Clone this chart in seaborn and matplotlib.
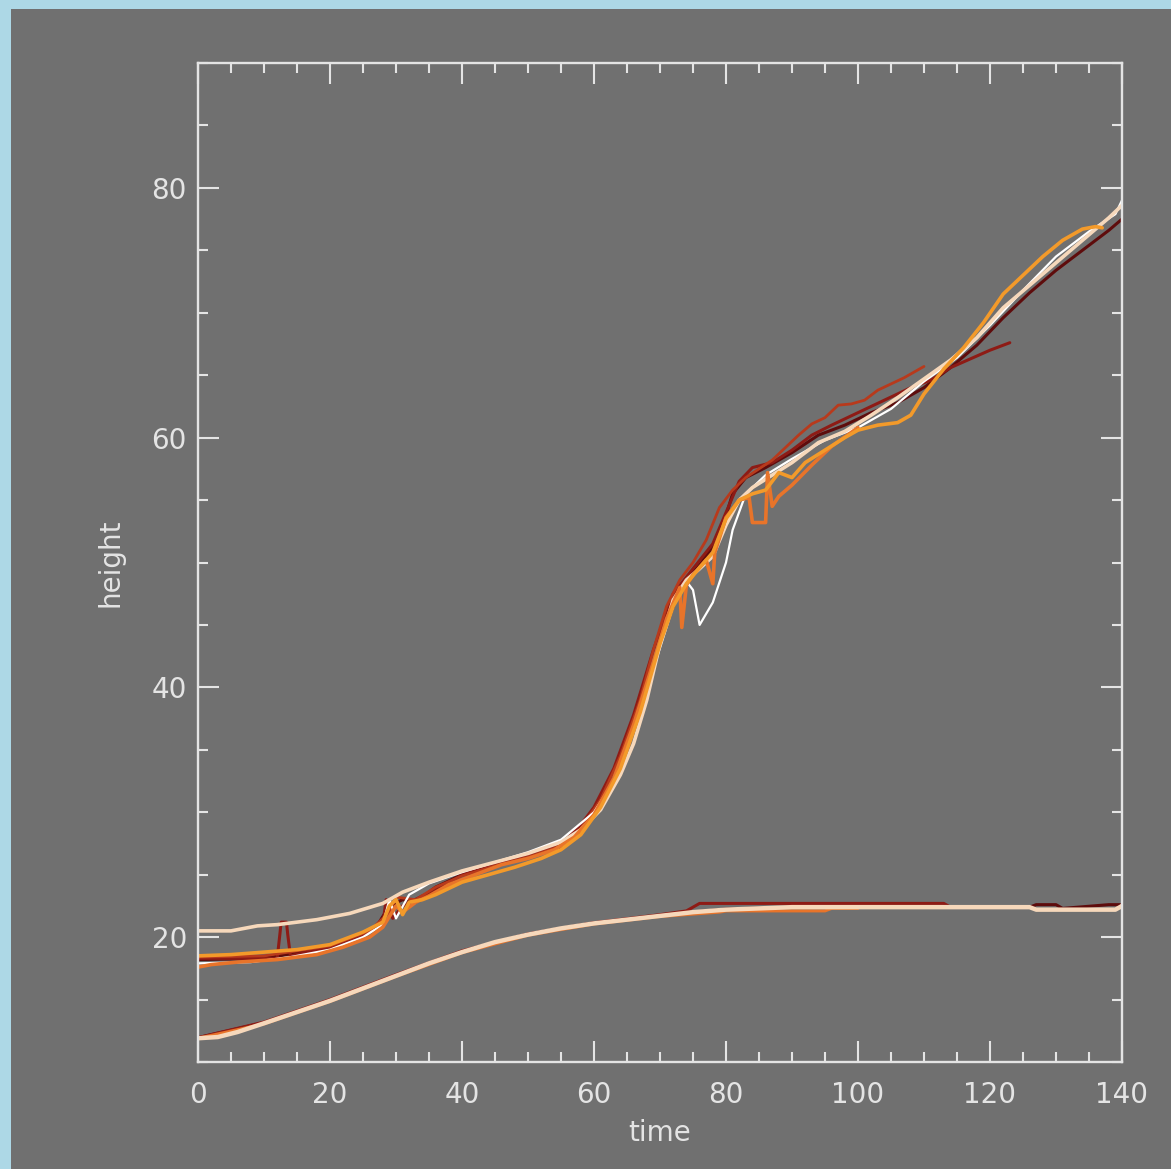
import matplotlib
matplotlib.use("Agg")
import matplotlib.pyplot as plt
import seaborn as sns
import pandas as pd
from matplotlib.patches import Rectangle
from matplotlib.ticker import MultipleLocator

# ---------------- data ----------------
# upper family of tracks
maroon_t = [0, 10, 20, 27, 29, 31, 33, 36, 40, 45, 50, 55, 58, 61, 64, 67, 70, 73, 76, 79, 81, 83, 86, 90, 94, 98, 102, 106, 110, 114, 118, 122, 126, 130, 134, 138, 140]
maroon_h = [18.2, 18.3, 19.2, 20.8, 22.5, 23.0, 22.8, 24.0, 25.0, 25.8, 26.5, 27.2, 28.4, 30.5, 33.8, 38.0, 43.5, 48.0, 49.8, 52.0, 55.5, 56.8, 57.6, 58.8, 60.2, 61.0, 62.0, 62.8, 64.0, 65.6, 67.4, 69.6, 71.6, 73.4, 75.0, 76.6, 77.5]

darkred_t = [0, 12, 12.4, 12.6, 13.4, 13.6, 14, 20, 25, 28, 28.5, 29.5, 31, 34, 37, 40, 45, 50, 55, 58, 60, 63, 66, 69, 72, 75, 78, 80, 82, 84, 87, 90, 93, 96, 100, 104, 108, 111, 114, 117, 120, 123]
darkred_h = [18.3, 18.3, 20.2, 21.2, 21.2, 20.2, 18.5, 19.2, 20.2, 21.0, 23.0, 21.5, 22.5, 23.3, 24.0, 25.0, 25.9, 26.6, 27.4, 29.0, 30.4, 33.5, 37.8, 43.0, 47.5, 49.5, 51.5, 54.0, 56.5, 57.6, 58.0, 59.0, 60.2, 61.0, 62.0, 63.0, 64.0, 64.6, 65.6, 66.3, 67.0, 67.6]

red_t = [0, 10, 20, 26, 29, 30, 33, 36, 40, 45, 50, 55, 58, 61, 64, 67, 69, 71, 73, 75, 77, 79, 81, 83, 85, 87, 89, 91, 93, 95, 97, 99, 101, 103, 105, 107, 110]
red_h = [18.4, 18.5, 19.3, 20.5, 22.0, 23.2, 23.0, 24.0, 24.9, 25.7, 26.4, 27.3, 28.7, 31.0, 34.5, 39.0, 43.0, 46.5, 48.6, 50.0, 51.8, 54.4, 55.8, 56.8, 57.5, 58.2, 59.2, 60.2, 61.1, 61.6, 62.6, 62.7, 63.0, 63.8, 64.3, 64.8, 65.7]

white_t = [0, 8, 14, 20, 25, 28, 29, 30, 32, 35, 40, 45, 50, 55, 60, 63, 66, 69, 72, 74, 75, 76, 78, 80, 81, 83, 86, 90, 95, 100, 105, 110, 115, 120, 125, 130, 135, 139, 140]
white_h = [17.9, 18.0, 18.4, 19.0, 20.0, 21.0, 23.0, 21.5, 23.4, 24.3, 25.2, 26.0, 26.8, 27.8, 30.0, 32.5, 36.5, 41.5, 46.5, 48.5, 47.8, 45.0, 46.8, 50.0, 52.6, 55.5, 57.0, 58.3, 59.8, 60.8, 62.3, 64.5, 66.4, 69.0, 71.8, 74.5, 76.5, 77.9, 79.0]

peach_t = [0, 5, 9, 12, 18, 23, 28, 31, 35, 40, 45, 50, 55, 58, 61, 64, 66, 68, 70, 72, 74, 76, 78, 80, 82, 84, 87, 90, 94, 98, 102, 106, 110, 114, 118, 122, 126, 130, 134, 138, 140]
peach_h = [20.5, 20.5, 20.9, 21.0, 21.4, 21.9, 22.7, 23.6, 24.4, 25.3, 26.0, 26.7, 27.6, 28.6, 30.2, 33.0, 35.5, 39.0, 43.5, 47.0, 48.6, 49.5, 50.5, 53.0, 55.0, 56.0, 57.0, 58.0, 59.6, 60.5, 61.8, 63.2, 64.7, 66.2, 68.0, 70.4, 72.2, 74.0, 75.8, 77.6, 78.6]

dkorange_t = [0, 2, 6, 12, 18, 22, 26, 28, 30, 31, 33, 35, 38, 42, 46, 50, 54, 57, 60, 63, 66, 69, 71, 73, 73.3, 74, 75, 77, 78, 78.3, 80, 82, 83.5, 84, 86, 86.3, 87, 88, 90, 93, 96, 100]
dkorange_h = [17.6, 17.8, 18.0, 18.2, 18.6, 19.2, 20.0, 20.8, 22.5, 22.0, 22.8, 23.3, 24.2, 25.0, 25.8, 26.3, 27.0, 28.0, 29.8, 32.7, 37.0, 42.0, 45.5, 48.0, 44.8, 48.2, 49.0, 50.2, 48.3, 50.8, 53.6, 55.0, 55.2, 53.2, 53.2, 57.2, 54.5, 55.3, 56.2, 57.8, 59.3, 60.8]

orange_t = [0, 5, 10, 15, 20, 25, 28, 29, 30, 31, 32, 34, 36, 38, 40, 44, 48, 52, 55, 58, 61, 64, 67, 70, 72, 74, 76, 78, 80, 82, 84, 86, 88, 90, 92, 95, 98, 100, 103, 106, 108, 110, 113, 116, 119, 122, 125, 128, 131, 134, 136, 137]
orange_h = [18.5, 18.6, 18.8, 19.0, 19.4, 20.4, 21.2, 22.5, 23.0, 21.8, 22.8, 23.0, 23.4, 23.9, 24.4, 25.0, 25.6, 26.3, 27.0, 28.2, 30.4, 33.5, 38.0, 43.5, 46.5, 48.3, 49.6, 50.8, 53.5, 55.0, 55.5, 55.8, 57.2, 56.8, 58.0, 59.0, 60.0, 60.6, 61.0, 61.2, 61.8, 63.5, 65.5, 67.2, 69.2, 71.5, 73.0, 74.5, 75.8, 76.7, 76.9, 76.8]

# lower family of tracks
low_maroon_t = [0, 10, 20, 30, 40, 50, 60, 70, 80, 90, 100, 110, 120, 126, 127, 130, 131, 138, 140]
low_maroon_h = [11.95, 13.15, 14.95, 16.95, 18.85, 20.25, 21.15, 21.75, 22.25, 22.4, 22.4, 22.4, 22.4, 22.4, 22.6, 22.6, 22.3, 22.6, 22.6]

low_darkred_t = [0, 10, 20, 30, 40, 50, 60, 70, 74, 76, 80, 90, 100, 113, 114]
low_darkred_h = [11.95, 13.2, 15.0, 17.0, 18.9, 20.25, 21.15, 21.8, 22.1, 22.7, 22.7, 22.7, 22.7, 22.7, 22.4]

low_orange_t = [0, 10, 20, 30, 40, 50, 60, 70, 79, 80, 95, 96, 100]
low_orange_h = [11.9, 13.05, 14.85, 16.85, 18.75, 20.15, 21.05, 21.65, 22.0, 22.1, 22.1, 22.3, 22.3]

low_peach_t = [0, 3, 6, 10, 15, 20, 25, 30, 35, 40, 45, 50, 55, 60, 65, 70, 75, 80, 85, 90, 95, 100, 110, 120, 126, 127, 139, 140]
low_peach_h = [11.9, 12.0, 12.4, 13.1, 14.0, 14.9, 15.9, 16.9, 17.9, 18.8, 19.6, 20.2, 20.7, 21.1, 21.4, 21.7, 22.0, 22.2, 22.3, 22.4, 22.4, 22.4, 22.4, 22.4, 22.4, 22.2, 22.2, 22.5]

x_ticks = [0, 20, 40, 60, 80, 100, 120, 140]
y_ticks = [20, 40, 60, 80]

# ---------------- styling ----------------
BG = "#707070"
FG = "#e4e4e4"
C_MAROON = "#5e0c0c"
C_DARKRED = "#8e1b15"
C_RED = "#b83a1c"
C_WHITE = "#ffffff"
C_PEACH = "#f6d8bb"
C_DKORANGE = "#e8742a"
C_ORANGE = "#f39a2a"

sns.set_style("ticks")
plt.rcParams['font.family'] = ['DejaVu Sans']

W, H = 1171, 1169
fig = plt.figure(figsize=(W / 100, H / 100), dpi=100)
fig.patch.set_facecolor("#add8e6")
fig.patches.append(Rectangle((11 / W, 0), 1 - 11 / W, 1 - 9 / H, transform=fig.transFigure,
                             facecolor=BG, edgecolor="none", zorder=-10))

ax = fig.add_axes([198 / W, (H - 1062) / H, (1122 - 198) / W, (1062 - 63) / H])
ax.set_facecolor(BG)

tracks = [
    (low_maroon_t, low_maroon_h, C_MAROON, 2.2),
    (low_darkred_t, low_darkred_h, C_DARKRED, 2.2),
    (low_orange_t, low_orange_h, C_DKORANGE, 2.2),
    (low_peach_t, low_peach_h, C_PEACH, 3.2),
    (maroon_t, maroon_h, C_MAROON, 2.2),
    (darkred_t, darkred_h, C_DARKRED, 2.2),
    (red_t, red_h, C_RED, 2.0),
    (white_t, white_h, C_WHITE, 1.6),
    (peach_t, peach_h, C_PEACH, 2.6),
    (dkorange_t, dkorange_h, C_DKORANGE, 2.6),
    (orange_t, orange_h, C_ORANGE, 2.6),
]
for t, h, c, lw in tracks:
    df = pd.DataFrame({"time": t, "height": h})
    sns.lineplot(data=df, x="time", y="height", ax=ax, color=c, lw=lw,
                 sort=False, estimator=None, legend=False)

ax.set_xlim(0, 140)
ax.set_ylim(10, 90)
ax.set_xticks(x_ticks)
ax.set_yticks(y_ticks)
ax.xaxis.set_minor_locator(MultipleLocator(5))
ax.yaxis.set_minor_locator(MultipleLocator(5))
ax.tick_params(which="both", direction="in", top=True, right=True, colors=FG, width=1.5)
ax.tick_params(which="major", length=15)
ax.tick_params(which="minor", length=7)
ax.tick_params(axis="x", which="major", labelsize=20, pad=14, labelcolor=FG)
ax.tick_params(axis="y", which="major", labelsize=20, pad=8, labelcolor=FG)
for s in ax.spines.values():
    s.set_color(FG)
    s.set_linewidth(1.7)

ax.set_xlabel("time", fontsize=20, color=FG)
ax.set_ylabel("height", fontsize=20, color=FG)
ax.xaxis.set_label_coords(0.5, -0.057)
ax.yaxis.set_label_coords(-0.080, 0.5)

fig.savefig("out.png", dpi=100, facecolor=fig.get_facecolor())
